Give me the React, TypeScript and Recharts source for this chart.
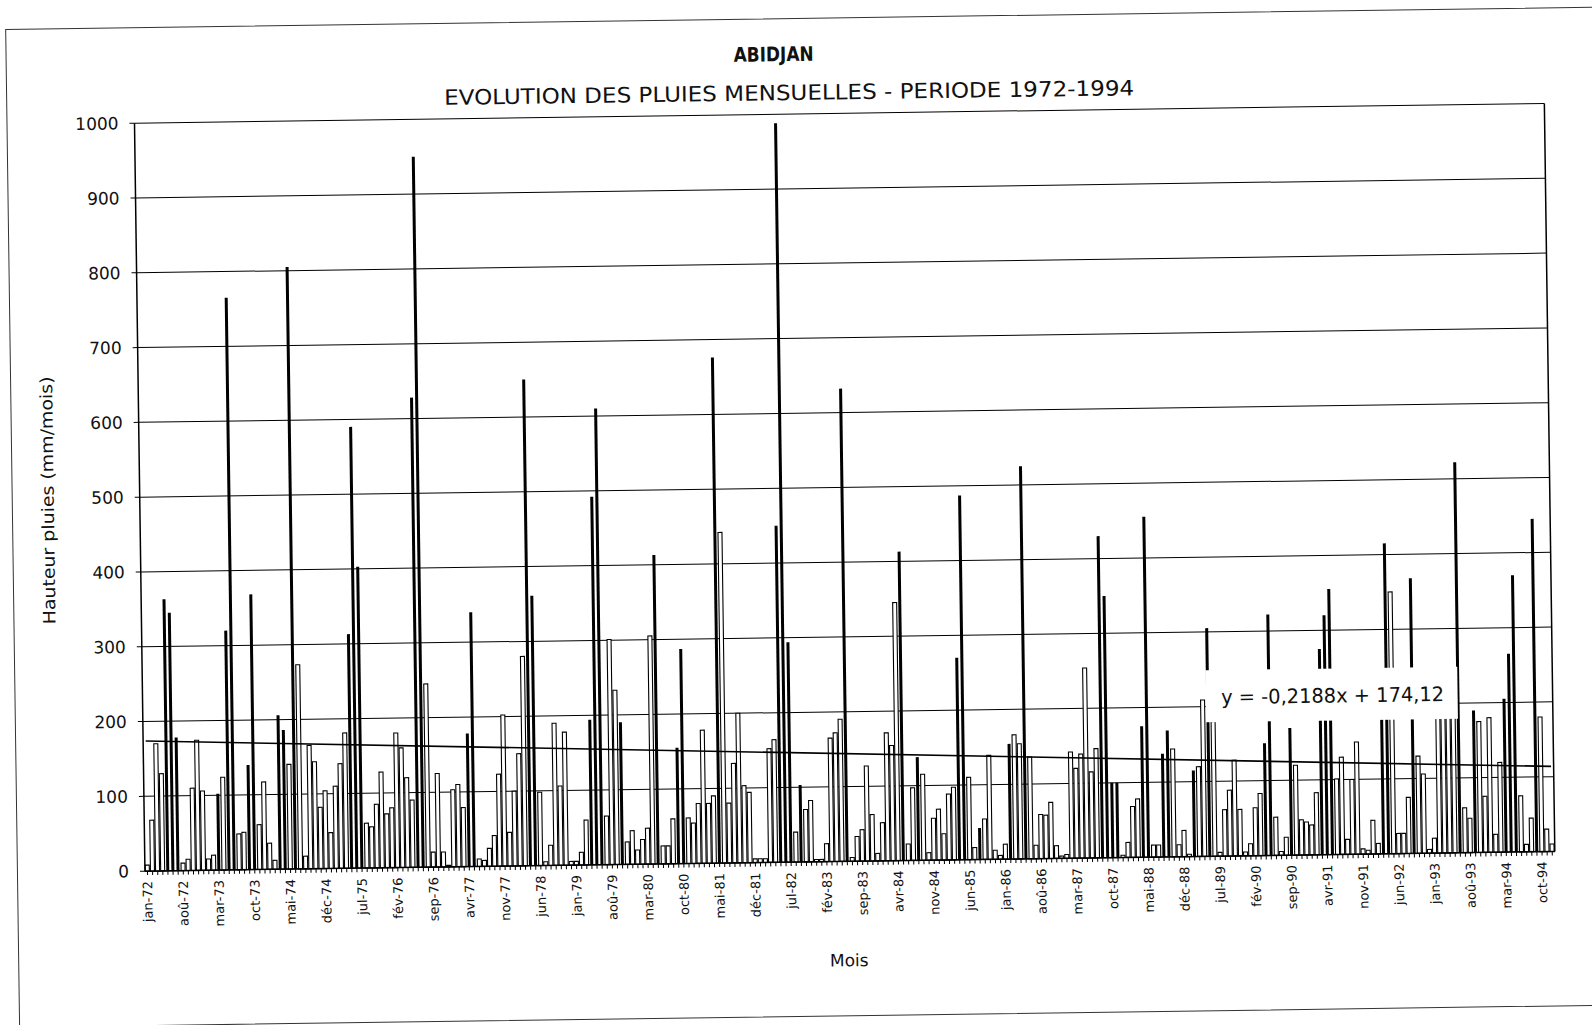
import { BarChart, Bar, XAxis, YAxis, CartesianGrid, ReferenceLine } from 'recharts';

// mois (libellés français) et années de la série
const MONTHS = ['jan', 'fév', 'mar', 'avr', 'mai', 'jun', 'jul', 'aoû', 'sep', 'oct', 'nov', 'déc'];
const YEARS = [72, 73, 74, 75, 76, 77, 78, 79, 80, 81, 82, 83, 84, 85, 86, 87, 88, 89, 90, 91, 92, 93, 94];

// pluies mensuelles (mm/mois)
const rain1972 = [8, 68, 170, 130, 363, 345, 178, 10, 15, 110, 174, 106];
const rain1973 = [15, 20, 102, 124, 320, 765, 48, 50, 140, 368, 60, 117];
const rain1974 = [35, 12, 206, 186, 140, 805, 273, 17, 165, 143, 82, 104];
const rain1975 = [48, 110, 140, 181, 313, 590, 403, 60, 55, 85, 128, 72];
const rain1976 = [80, 180, 160, 120, 90, 628, 950, 245, 20, 125, 20, 2];
const rain1977 = [103, 110, 79, 178, 340, 10, 8, 24, 41, 123, 202, 45];
const rain1978 = [100, 150, 280, 650, 361, 98, 5, 27, 190, 106, 178, 5];
const rain1979 = [5, 17, 60, 194, 492, 610, 65, 301, 233, 190, 30, 45];
const rain1980 = [19, 33, 48, 305, 413, 24, 24, 60, 155, 287, 61, 54];
const rain1981 = [80, 178, 80, 90, 676, 442, 80, 133, 200, 103, 94, 5];
const rain1982 = [5, 5, 152, 164, 450, 988, 294, 40, 103, 70, 82, 3];
const rain1983 = [3, 24, 165, 172, 190, 632, 5, 33, 42, 127, 62, 10];
const rain1984 = [51, 171, 154, 345, 413, 22, 97, 138, 115, 10, 56, 68];
const rain1985 = [35, 88, 97, 270, 487, 110, 16, 42, 54, 139, 12, 5];
const rain1986 = [20, 154, 166, 154, 525, 136, 18, 59, 58, 75, 17, 3];
const rain1987 = [5, 142, 120, 139, 254, 115, 146, 430, 350, 100, 100, 3];
const rain1988 = [20, 68, 78, 175, 455, 16, 16, 138, 169, 144, 16, 35];
const rain1989 = [3, 115, 120, 209, 305, 180, 5, 62, 88, 128, 62, 5];
const rain1990 = [16, 64, 83, 150, 322, 51, 5, 24, 170, 120, 47, 44];
const rain1991 = [40, 83, 275, 320, 355, 101, 130, 20, 100, 150, 7, 5];
const rain1992 = [45, 14, 205, 415, 350, 27, 27, 75, 368, 130, 106, 5];
const rain1993 = [20, 205, 205, 205, 205, 522, 60, 46, 190, 175, 75, 180];
const rain1994 = [24, 120, 205, 265, 370, 75, 10, 45, 445, 180, 30, 10];

const RAIN_BY_YEAR = [
  rain1972, rain1973, rain1974, rain1975, rain1976, rain1977, rain1978, rain1979,
  rain1980, rain1981, rain1982, rain1983, rain1984, rain1985, rain1986, rain1987,
  rain1988, rain1989, rain1990, rain1991, rain1992, rain1993, rain1994,
];

// barres imprimées pleines (les autres sont creuses)
const DARK_BARS = new Set([
  'mai-72', 'jun-72', 'jul-72', 'mar-73', 'mai-73', 'jun-73', 'sep-73', 'oct-73',
  'mar-74', 'avr-74', 'jun-74', 'mai-75', 'jun-75', 'jul-75', 'jun-76', 'jul-76',
  'avr-77', 'mai-77', 'avr-78', 'mai-78', 'avr-79', 'mai-79', 'jun-79', 'oct-79',
  'mai-80', 'sep-80', 'oct-80', 'mai-81', 'mai-82', 'jun-82', 'jul-82', 'sep-82',
  'jun-83', 'mai-84', 'aoû-84', 'avr-85', 'mai-85', 'aoû-85', 'fév-86', 'mai-86',
  'aoû-87', 'sep-87', 'oct-87', 'nov-87', 'avr-88', 'mai-88', 'aoû-88', 'sep-88',
  'fév-89', 'mai-89', 'avr-90', 'mai-90', 'sep-90', 'mar-91', 'avr-91', 'mai-91',
  'mar-92', 'avr-92', 'sep-92', 'jun-93', 'sep-93', 'mar-94', 'avr-94', 'mai-94', 'sep-94',
]);

// droite de tendance affichée sur le graphique
const TREND_SLOPE = -0.2188;
const TREND_INTERCEPT = 174.12;

const Y_TICKS = [0, 100, 200, 300, 400, 500, 600, 700, 800, 900, 1000];
const LABEL_EVERY = 7;

const data = YEARS.flatMap((yy, yi) =>
  MONTHS.map((m, mi) => ({ mois: `${m}-${yy}`, pluie: RAIN_BY_YEAR[yi][mi] }))
);

const FONT = '"DejaVu Sans", sans-serif';

function MonthTick(props: any) {
  const { x, y, payload, index } = props;
  const i = index ?? payload.index;
  return (
    <g>
      <line x1={x} x2={x} y1={y} y2={y + 4} stroke="#000" strokeWidth={1} />
      {i % LABEL_EVERY === 0 && (
        <text
          x={x}
          y={y + 10}
          transform={`rotate(-90 ${x} ${y + 10})`}
          textAnchor="end"
          dominantBaseline="central"
          fontSize={13}
          fontFamily={FONT}
          fill="#111"
        >
          {payload.value}
        </text>
      )}
    </g>
  );
}

// barre creuse (contour) ou pleine et un peu plus étroite, comme sur la copie
function RainBar(props: any) {
  const { x, y, width, height, payload } = props;
  if (!height || height <= 0) return null;
  const dark = DARK_BARS.has(payload.mois);
  if (dark) {
    return <rect x={x + 0.5} y={y} width={Math.max(width - 1, 1)} height={height} fill="#000" />;
  }
  return <rect x={x} y={y} width={width} height={height} fill="#fff" stroke="#000" strokeWidth={1.1} />;
}

export default function App() {
  const first = data[0].mois;
  const last = data[data.length - 1].mois;

  return (
    <div style={{ position: 'absolute', left: 0, top: 0, width: 1592, height: 1025, background: '#fff', overflow: 'hidden' }}>
      <div
        style={{
          position: 'absolute',
          left: 0,
          top: 0,
          width: 1592,
          height: 1025,
          transform: 'rotate(-0.8deg)',
          fontFamily: FONT,
        }}
      >
        <div
          style={{
            position: 'absolute',
            left: 12,
            top: 18,
            width: 1640,
            height: 997,
            border: '1px solid #333',
          }}
        />
        <BarChart
          width={1592}
          height={1025}
          data={data}
          margin={{ top: 114, right: 41, left: 0, bottom: 103 }}
          barCategoryGap="8%"
        >
          <CartesianGrid yAxisId="left" vertical={false} stroke="#000" strokeWidth={1} />
          <XAxis
            dataKey="mois"
            interval={0}
            height={60}
            tickSize={0}
            tickMargin={0}
            tickLine={false}
            axisLine={{ stroke: '#000', strokeWidth: 1.5 }}
            tick={<MonthTick />}
          />
          <YAxis
            yAxisId="left"
            width={140}
            domain={[0, 1000]}
            ticks={Y_TICKS}
            tickSize={5}
            tickMargin={11}
            tickLine={{ stroke: '#000' }}
            axisLine={{ stroke: '#000', strokeWidth: 1.5 }}
            tick={{ fontSize: 17, fontFamily: FONT, fill: '#111' }}
          />
          <YAxis
            yAxisId="right"
            orientation="right"
            width={1}
            domain={[0, 1000]}
            tick={false}
            tickLine={false}
            axisLine={{ stroke: '#000', strokeWidth: 1.5 }}
          />
          <Bar yAxisId="left" dataKey="pluie" shape={<RainBar />} isAnimationActive={false} />
          <ReferenceLine
            yAxisId="left"
            stroke="#000"
            strokeWidth={1.6}
            segment={[
              { x: first, y: TREND_INTERCEPT + TREND_SLOPE * 1 },
              { x: last, y: TREND_INTERCEPT + TREND_SLOPE * data.length },
            ]}
          />
        </BarChart>
        <svg
          width={1592}
          height={1025}
          style={{ position: 'absolute', left: 0, top: 0, pointerEvents: 'none' }}
        >
          <text x={780} y={61} textAnchor="middle" fontSize={20} fontWeight="bold" fontFamily={FONT} textLength={80} lengthAdjust="spacingAndGlyphs" fill="#111">
            ABIDJAN
          </text>
          <text x={795} y={100} textAnchor="middle" fontSize={21} fontFamily={FONT} textLength={690} lengthAdjust="spacingAndGlyphs" fill="#111">
            EVOLUTION DES PLUIES MENSUELLES - PERIODE 1972-1994
          </text>
          <text
            x={54}
            y={490}
            transform="rotate(-90 54 490)"
            textAnchor="middle"
            fontSize={17}
            fontFamily={FONT}
            textLength={248}
            lengthAdjust="spacingAndGlyphs"
            fill="#111"
          >
            Hauteur pluies (mm/mois)
          </text>
          <text x={843} y={967} textAnchor="middle" fontSize={17} fontFamily={FONT} fill="#111">
            Mois
          </text>
          <rect x={1203} y={676} width={252} height={52} fill="#fff" />
          <text x={1330} y={710} textAnchor="middle" fontSize={20} fontFamily={FONT} textLength={223} lengthAdjust="spacingAndGlyphs" fill="#111">
            y = -0,2188x + 174,12
          </text>
        </svg>
      </div>
    </div>
  );
}
